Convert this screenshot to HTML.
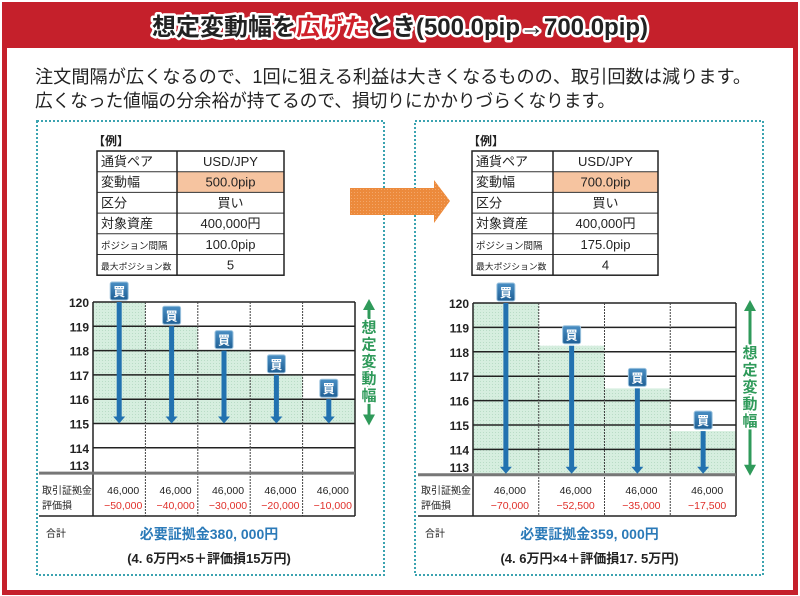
<!DOCTYPE html>
<html><head><meta charset="utf-8">
<style>
html,body{margin:0;padding:0;background:#fff;}
svg{display:block;font-family:"Liberation Sans","Noto Sans CJK JP",sans-serif;}
</style></head>
<body>
<svg id="s" width="800" height="596" viewBox="0 0 800 596" xmlns="http://www.w3.org/2000/svg">
<defs>
<pattern id="gp" width="3" height="3" patternUnits="userSpaceOnUse">
<rect width="3" height="3" fill="#d6eedf"/><rect width="1" height="1" fill="#b9dcc6"/>
</pattern>
<pattern id="op" width="3" height="3" patternUnits="userSpaceOnUse">
<rect width="3" height="3" fill="#ec8a3c"/><rect width="1" height="1" fill="#f3a668"/>
</pattern>
<linearGradient id="bg" x1="0" y1="0" x2="0" y2="1"><stop offset="0" stop-color="#4a8fc4"/><stop offset="1" stop-color="#1f5f95"/></linearGradient>
</defs>
<rect x="0" y="0" width="800" height="596" fill="#fff"/>
<rect x="4.5" y="4.5" width="791" height="588" fill="none" stroke="#c5202b" stroke-width="5"/>
<rect x="4" y="4" width="792" height="44" fill="#c5202b"/>
<text x="400" y="35" text-anchor="middle" font-size="24" font-weight="bold" fill="#222" stroke="#fff" stroke-width="5" paint-order="stroke" stroke-linejoin="round">想定変動幅を<tspan fill="#d0202a">広げた</tspan>とき(500.0pip→700.0pip)</text>
<text x="35" y="83" font-size="18" fill="#222" textLength="716" lengthAdjust="spacingAndGlyphs">注文間隔が広くなるので、1回に狙える利益は大きくなるものの、取引回数は減ります。</text>
<text x="35" y="107" font-size="18" fill="#222" textLength="580" lengthAdjust="spacingAndGlyphs">広くなった値幅の分余裕が持てるので、損切りにかかりづらくなります。</text>
<rect x="37" y="121" width="347" height="454" fill="none" stroke="#3ba3b0" stroke-width="2" stroke-dasharray="2,2"/>
<rect x="415" y="121" width="348" height="454" fill="none" stroke="#3ba3b0" stroke-width="2" stroke-dasharray="2,2"/>
<polygon points="350,188 434,188 434,180 450,201 434,223 434,215 350,215" fill="url(#op)"/>
<g id="g"></g>
</svg>
<script>
const g=document.getElementById('g');let h='';
function t(x,y,s,o){o=o||{};h+=`<text x="${x}" y="${y}" font-size="${o.fs||12}" fill="${o.c||'#222'}" text-anchor="${o.a||'start'}" font-weight="${o.w||'normal'}">${s}</text>`;}
function L(x1,y1,x2,y2,c,w,d){h+=`<line x1="${x1}" y1="${y1}" x2="${x2}" y2="${y2}" stroke="${c}" stroke-width="${w}" ${d?'stroke-dasharray="'+d+'"':''}/>`;}
function table(x0,xs,x1,vals){
 const top=151,rh=20.7;
 t(x0-4,top-6,'【例】',{fs:12,w:'bold'});
 h+=`<rect x="${xs}" y="${top+rh}" width="${x1-xs}" height="${rh}" fill="#f6c4a0"/>`;
 const labs=['通貨ペア','変動幅','区分','対象資産','ポジション間隔','最大ポジション数'];
 for(let i=0;i<6;i++){const y=top+rh*i;
  t(x0+4,y+15,labs[i],{fs:i==5?8.8:(i==4?9.5:13)});
  t((xs+x1)/2,y+15,vals[i],{fs:13,a:'middle'});
  if(i>0)L(x0,y,x1,y,'#333',1);}
 h+=`<rect x="${x0}" y="${top}" width="${x1-x0}" height="${rh*6}" fill="none" stroke="#222" stroke-width="1.5"/>`;
 L(xs,top,xs,top+rh*6,'#222',1.5);
}
table(97,177,284,['USD/JPY','500.0pip','買い','400,000円','100.0pip','5']);
table(472,553,658,['USD/JPY','700.0pip','買い','400,000円','175.0pip','4']);
function badge(cx,cy){h+=`<rect x="${cx-9}" y="${cy-9}" width="18" height="18" rx="2" fill="url(#bg)" stroke="#9cc3de" stroke-width="1"/>`;t(cx,cy+5,'買',{fs:12,c:'#fff',a:'middle',w:'bold'});}
function chart(gx0,gx1,y120,u,n,tops,labx,gArrowX,pL,pR,margins,losses,sum,paren){
 const yv=v=>y120+(120-v)*u, cw=(gx1-gx0)/n, yb=yv(113);
 const end=tops[tops.length-1]>=115?115:113;
 for(let i=0;i<n;i++){const x=gx0+i*cw;h+=`<rect x="${x}" y="${yv(tops[i])}" width="${cw}" height="${yv(end)-yv(tops[i])}" fill="url(#gp)"/>`;}
 for(let v=114;v<=119;v++)L(gx0,yv(v),gx1,yv(v),'#222',1.5);
 L(gx0,yv(120),gx1,yv(120),'#222',1.5);
 for(let i=1;i<n;i++)L(gx0+i*cw,yv(120),gx0+i*cw,516,'#444',1,'2,1');
 L(gx0,yv(120),gx0,516,'#222',1.5);L(gx1,yv(120),gx1,516,'#222',1.5);
 for(let v=113;v<=120;v++)t(labx,v==113?yv(v)-2:yv(v)+5,v,{fs:12,a:'end',w:'bold'});
 L(pL,yb+1,gx1,yb+1,'#777',3);L(pL,516,gx1,516,'#222',1.5);
 for(let i=0;i<n;i++){const cx=gx0+cw*(i+.5);
  L(cx,yv(tops[i]),cx,yv(end)-6,'#2272b0',5);
  h+=`<polygon points="${cx-6},${yv(end)-7} ${cx+6},${yv(end)-7} ${cx},${yv(end)}" fill="#2272b0"/>`;
  badge(cx,yv(tops[i])-11);
  t(cx+4,494,margins,{fs:10.5,a:'middle'});t(cx+4,509,losses[i],{fs:10.5,a:'middle',c:'#e0302a'});}
 t(pL+3,494,'取引証拠金',{fs:10});t(pL+3,509,'評価損',{fs:10});
 const ga=yv(120)-3, gb=yv(end)+2;
 L(gArrowX,ga+10,gArrowX,gb-10,'#2f9a5a',3);
 h+=`<polygon points="${gArrowX-6},${ga+11} ${gArrowX+6},${ga+11} ${gArrowX},${ga}" fill="#2f9a5a"/><polygon points="${gArrowX-6},${gb-11} ${gArrowX+6},${gb-11} ${gArrowX},${gb}" fill="#2f9a5a"/>`;
 const mid=(ga+gb)/2-30;
 '想定変動幅'.split('').forEach((c,k)=>{h+=`<text x="${gArrowX}" y="${mid+k*17}" font-size="15" font-weight="bold" text-anchor="middle" fill="#2f9a5a" stroke="#fff" stroke-width="3" paint-order="stroke">${c}</text>`;});
 t(pL+7,537,'合計',{fs:10});
 t((gx0+gx1)/2-15,539,sum,{fs:14,a:'middle',c:'#2b7ab8',w:'bold'});
 t((gx0+gx1)/2-15,563,paren,{fs:13,a:'middle',w:'bold'});
}
chart(93,355,302,24.3,5,[120,119,118,117,116],89,369,39,355,'46,000',['−50,000','−40,000','−30,000','−20,000','−10,000'],'必要証拠金380, 000円','(4. 6万円×5＋評価損15万円)');
chart(473,736,303,24.4,4,[120,118.25,116.5,114.75],469,750,418,736,'46,000',['−70,000','−52,500','−35,000','−17,500'],'必要証拠金359, 000円','(4. 6万円×4＋評価損17. 5万円)');
g.innerHTML=h;
</script>
</body></html>
